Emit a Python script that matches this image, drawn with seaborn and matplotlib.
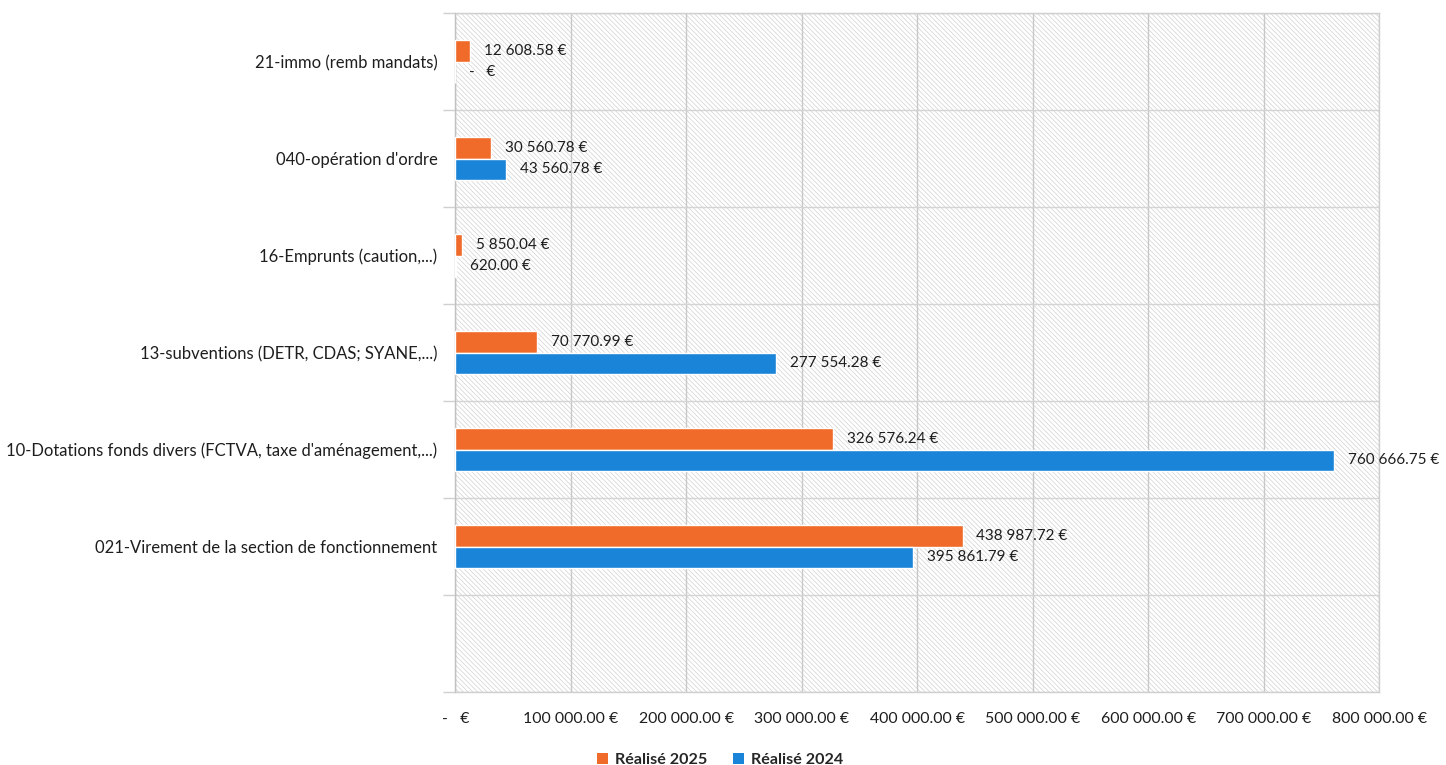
import matplotlib
matplotlib.use("Agg")
import matplotlib.pyplot as plt
import matplotlib.ticker as mticker
from matplotlib.patches import Rectangle, Patch
import seaborn as sns
import pandas as pd

categories = [
    "21-immo (remb mandats)",
    "040-opération d'ordre",
    "16-Emprunts (caution,...)",
    "13-subventions (DETR, CDAS; SYANE,...)",
    "10-Dotations fonds divers (FCTVA, taxe d'aménagement,...)",
    "021-Virement de la section de fonctionnement",
]
empty_slot = " "
series = ["Réalisé 2025", "Réalisé 2024"]
values_2025 = [12608.58, 30560.78, 5850.04, 70770.99, 326576.24, 438987.72]
values_2024 = [0.0, 43560.78, 620.00, 277554.28, 760666.75, 395861.79]
x_ticks = [0, 100000, 200000, 300000, 400000, 500000, 600000, 700000, 800000]
colors = {"Réalisé 2025": "#F06A2A", "Réalisé 2024": "#1A84D8"}

rows = []
for c, a, b in zip(categories, values_2025, values_2024):
    rows.append({"cat": c, "series": series[0], "value": a})
    rows.append({"cat": c, "series": series[1], "value": b})
df = pd.DataFrame(rows)

sns.set_style("white")
plt.rcParams["font.family"] = ["Lato", "DejaVu Sans"]
plt.rcParams["hatch.linewidth"] = 0.45

fig = plt.figure(figsize=(14.46, 7.65), dpi=100)
ax = fig.add_axes([0.315, 0.095, 0.639, 0.888])

# hatched background
bg = Rectangle((0, 0), 1, 1, transform=ax.transAxes, facecolor="white",
               edgecolor="#cdcdcd", hatch="\\\\\\\\\\\\\\", linewidth=0, zorder=0)
ax.add_patch(bg)
ax.set_facecolor("white")

order = categories + [empty_slot]
sns.barplot(data=df, y="cat", x="value", hue="series", order=order,
            hue_order=series, palette=colors, orient="h", width=0.44,
            saturation=1, ax=ax, legend=False, zorder=3)


def fmt(v):
    if abs(v) < 1e-9:
        return "-   €"
    return f"{v:,.2f} €".replace(",", " ")


for cont in ax.containers:
    labels = [fmt(p.get_width()) for p in cont]
    ax.bar_label(cont, labels=labels, padding=10, fontsize=11, color="#1e1e1e")

ax.set_xlim(0, 800000)
ax.set_ylim(len(order) - 0.5, -0.5)
ax.set_xticks(x_ticks)
ax.xaxis.set_major_formatter(mticker.FuncFormatter(lambda v, p: fmt(v)))
ax.set_yticks(range(len(order)))
ax.set_yticklabels(order)
ax.set_yticks([i - 0.5 for i in range(len(order) + 1)], minor=True)
ax.tick_params(axis="y", which="major", length=0, pad=13, labelsize=12, labelcolor="#1e1e1e")
ax.tick_params(axis="y", which="minor", length=9, color="#cfcfcf", width=1, left=True)
ax.tick_params(axis="x", which="major", length=0, pad=14, labelsize=11.4, labelcolor="#1e1e1e")
ax.set_xlabel("")
ax.set_ylabel("")
ax.grid(False)
ax.xaxis.grid(True, which="major", color="#c8c8c8", linewidth=1, zorder=1)
ax.yaxis.grid(True, which="minor", color="#d4d4d4", linewidth=1, zorder=1)
ax.set_axisbelow(True)
for s in ax.spines.values():
    s.set_visible(True)
    s.set_color("#cfcfcf")
    s.set_linewidth(1)
ax.spines["left"].set_color("#c0c0c0")

handles = [Patch(facecolor=colors[s], edgecolor="none") for s in series]
fig.legend(handles, series, loc="lower center", bbox_to_anchor=(0.498, -0.022),
           ncol=2, frameon=False, handlelength=0.7, handleheight=0.7,
           handletextpad=0.4, columnspacing=1.6,
           prop={"family": ["Lato", "DejaVu Sans"], "weight": "bold", "size": 11.6})

fig.savefig("out.png", dpi=100)
